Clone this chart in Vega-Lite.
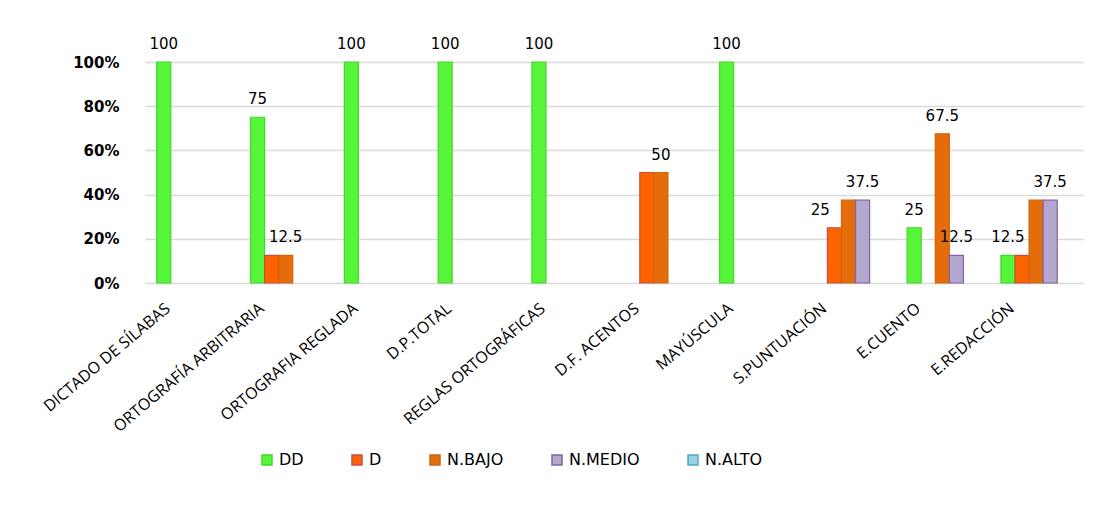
{
  "$schema": "https://vega.github.io/schema/vega-lite/v6.json",
  "width": 938,
  "height": 221,
  "autosize": {"type": "none"},
  "padding": {"left": 145, "top": 62, "right": 25, "bottom": 222},
  "background": "white",
  "datasets": {
    "bars": [
      {"categoria": "DICTADO DE SÍLABAS", "nivel": "DD", "valor": 100},
      {"categoria": "ORTOGRAFÍA ARBITRARIA", "nivel": "DD", "valor": 75},
      {"categoria": "ORTOGRAFÍA ARBITRARIA", "nivel": "D", "valor": 12.5},
      {"categoria": "ORTOGRAFÍA ARBITRARIA", "nivel": "N.BAJO", "valor": 12.5},
      {"categoria": "ORTOGRAFIA REGLADA", "nivel": "DD", "valor": 100},
      {"categoria": "D.P.TOTAL", "nivel": "DD", "valor": 100},
      {"categoria": "REGLAS ORTOGRÁFICAS", "nivel": "DD", "valor": 100},
      {"categoria": "D.F. ACENTOS", "nivel": "D", "valor": 50},
      {"categoria": "D.F. ACENTOS", "nivel": "N.BAJO", "valor": 50},
      {"categoria": "MAYÚSCULA", "nivel": "DD", "valor": 100},
      {"categoria": "S.PUNTUACIÓN", "nivel": "D", "valor": 25},
      {"categoria": "S.PUNTUACIÓN", "nivel": "N.BAJO", "valor": 37.5},
      {"categoria": "S.PUNTUACIÓN", "nivel": "N.MEDIO", "valor": 37.5},
      {"categoria": "E.CUENTO", "nivel": "DD", "valor": 25},
      {"categoria": "E.CUENTO", "nivel": "N.BAJO", "valor": 67.5},
      {"categoria": "E.CUENTO", "nivel": "N.MEDIO", "valor": 12.5},
      {"categoria": "E.REDACCIÓN", "nivel": "DD", "valor": 12.5},
      {"categoria": "E.REDACCIÓN", "nivel": "D", "valor": 12.5},
      {"categoria": "E.REDACCIÓN", "nivel": "N.BAJO", "valor": 37.5},
      {"categoria": "E.REDACCIÓN", "nivel": "N.MEDIO", "valor": 37.5}
    ],
    "labels": [
      {"categoria": "DICTADO DE SÍLABAS", "nivel": "DD", "valor": 100},
      {"categoria": "ORTOGRAFÍA ARBITRARIA", "nivel": "DD", "valor": 75},
      {"categoria": "ORTOGRAFÍA ARBITRARIA", "nivel": "N.BAJO", "valor": 12.5},
      {"categoria": "ORTOGRAFIA REGLADA", "nivel": "DD", "valor": 100},
      {"categoria": "D.P.TOTAL", "nivel": "DD", "valor": 100},
      {"categoria": "REGLAS ORTOGRÁFICAS", "nivel": "DD", "valor": 100},
      {"categoria": "D.F. ACENTOS", "nivel": "N.BAJO", "valor": 50},
      {"categoria": "MAYÚSCULA", "nivel": "DD", "valor": 100},
      {"categoria": "S.PUNTUACIÓN", "nivel": "DD", "valor": 25},
      {"categoria": "S.PUNTUACIÓN", "nivel": "N.MEDIO", "valor": 37.5},
      {"categoria": "E.CUENTO", "nivel": "DD", "valor": 25},
      {"categoria": "E.CUENTO", "nivel": "N.BAJO", "valor": 67.5},
      {"categoria": "E.CUENTO", "nivel": "N.MEDIO", "valor": 12.5},
      {"categoria": "E.REDACCIÓN", "nivel": "DD", "valor": 12.5},
      {"categoria": "E.REDACCIÓN", "nivel": "N.MEDIO", "valor": 37.5}
    ]
  },
  "encoding": {
    "x": {
      "field": "categoria",
      "type": "nominal",
      "sort": null,
      "scale": {
        "domain": ["DICTADO DE SÍLABAS", "ORTOGRAFÍA ARBITRARIA", "ORTOGRAFIA REGLADA", "D.P.TOTAL", "REGLAS ORTOGRÁFICAS", "D.F. ACENTOS", "MAYÚSCULA", "S.PUNTUACIÓN", "E.CUENTO", "E.REDACCIÓN"],
        "paddingInner": 0.25,
        "paddingOuter": 0.125
      },
      "axis": {
        "title": null,
        "labelAngle": -40,
        "labelAlign": "right",
        "labelBaseline": "middle",
        "labelOffset": -24,
        "labelPadding": 23,
        "labelFont": "Open Sans",
        "labelFontSize": 16,
        "labelColor": "#000000",
        "labelLimit": 300,
        "domain": false,
        "ticks": false,
        "grid": false
      }
    },
    "xOffset": {
      "field": "nivel",
      "type": "nominal",
      "scale": {"domain": ["DD", "D", "N.BAJO", "N.MEDIO", "N.ALTO"], "paddingInner": 0, "paddingOuter": 0}
    },
    "y": {
      "field": "valor",
      "type": "quantitative",
      "scale": {"domain": [0, 100], "nice": false},
      "axis": {
        "title": null,
        "values": [0, 20, 40, 60, 80, 100],
        "labelExpr": "datum.value + '%'",
        "labelFont": "DejaVu Sans",
        "labelFontSize": 15,
        "labelFontWeight": "bold",
        "labelColor": "#000000",
        "labelPadding": 26,
        "domain": false,
        "ticks": false,
        "grid": true,
        "gridColor": "#D9D9D9",
        "gridWidth": 1.5
      }
    }
  },
  "layer": [
    {
      "data": {"name": "bars"},
      "mark": {"type": "bar", "strokeWidth": 1.2},
      "encoding": {
        "color": {
          "field": "nivel",
          "type": "nominal",
          "scale": {
            "domain": ["DD", "D", "N.BAJO", "N.MEDIO", "N.ALTO"],
            "range": ["#57F53A", "#FF6300", "#E46C0A", "#B4A7CF", "#9DCFE0"]
          },
          "legend": {
            "title": null,
            "orient": "none",
            "legendX": 114,
            "legendY": 390,
            "direction": "horizontal",
            "columnPadding": 45,
            "symbolType": "square",
            "symbolSize": 100,
            "symbolStrokeWidth": 1.5,
            "labelFont": "DejaVu Sans",
            "labelFontSize": 16,
            "labelColor": "#000000",
            "labelOffset": 4
          }
        },
        "stroke": {
          "field": "nivel",
          "type": "nominal",
          "scale": {
            "domain": ["DD", "D", "N.BAJO", "N.MEDIO", "N.ALTO"],
            "range": ["#47D82C", "#C0504D", "#D0650C", "#8064A2", "#4BACC6"]
          },
          "legend": null
        }
      }
    },
    {
      "data": {"name": "labels"},
      "mark": {"type": "text", "baseline": "bottom", "dy": -10, "font": "DejaVu Sans", "fontSize": 15, "color": "#000000"},
      "encoding": {
        "text": {"field": "valor", "type": "quantitative"}
      }
    }
  ],
  "config": {
    "view": {"stroke": null}
  }
}
